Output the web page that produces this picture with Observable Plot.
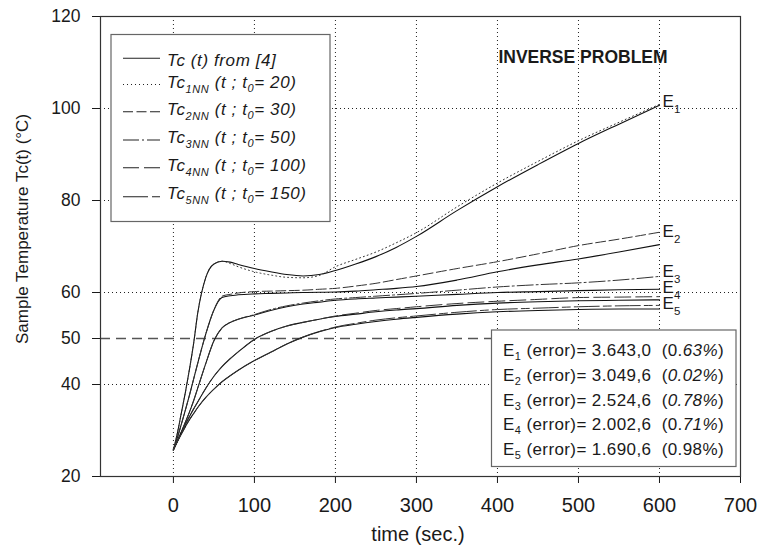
<!DOCTYPE html>
<html><head><meta charset="utf-8">
<script src="https://cdn.jsdelivr.net/npm/d3@7"></script>
<script src="https://cdn.jsdelivr.net/npm/@observablehq/plot@0.6"></script>
<style>
body{margin:0;background:#fff;}
#chart svg{display:block;}
</style></head><body><div id="chart"></div>
<script>
// ---------- data ----------
const time = [0, 5, 10, 15, 20, 25, 30, 40, 50, 60, 70, 80, 100, 120, 140, 160, 180, 200, 225, 250, 275, 300, 350, 400, 450, 500, 550, 600];

// Tc(t) from [4] (solid) for the five cases E1..E5
const ref1 = [25.8, 29.5, 34, 38.5, 43.5, 49, 55.5, 63.3, 66.2, 66.8, 66.6, 66.1, 65.2, 64.5, 63.9, 63.6, 63.9, 64.8, 66.2, 67.8, 69.8, 72.2, 77.8, 83, 87.8, 92.4, 96.6, 100.7];
const ref2 = [25.8, 28.5, 31.5, 34.6, 37.8, 41.2, 44.6, 51, 56.2, 58.9, 59.3, 59.5, 59.7, 59.8, 59.9, 60.0, 60.05, 60.1, 60.3, 60.6, 60.9, 61.3, 62.7, 64.5, 66.0, 67.3, 68.8, 70.4];
const ref3 = [25.8, 27.8, 29.8, 31.9, 34.1, 36.5, 39.2, 44.6, 49.5, 52.3, 53.5, 54.2, 55.1, 56.1, 56.9, 57.5, 57.9, 58.3, 58.6, 58.8, 59.0, 59.2, 59.6, 60.0, 60.2, 60.4, 60.6, 60.7];
const ref4 = [25.8, 27.7, 29.6, 31.4, 33.1, 34.7, 36.2, 39.2, 41.8, 43.9, 45.6, 47.1, 49.8, 51.5, 52.7, 53.5, 54.2, 54.8, 55.3, 55.8, 56.2, 56.5, 57.2, 57.7, 58.0, 58.2, 58.3, 58.4];
const ref5 = [25.8, 27.6, 29.3, 30.9, 32.4, 33.7, 35.0, 37.2, 39.0, 40.6, 41.9, 43.1, 45.2, 47.0, 48.8, 50.3, 51.5, 52.4, 53.1, 53.7, 54.2, 54.6, 55.3, 55.8, 56.1, 56.3, 56.4, 56.4];

// Tc_iNN (neural network) curves
const nn1 = [25.8, 29.5, 34, 38.5, 43.5, 49, 55.5, 63.3, 66.2, 66.8, 66.3, 65.6, 64.5, 63.8, 63.3, 63.2, 63.7, 65.6, 67.2, 68.8, 70.8, 73, 78.6, 83.8, 88.5, 93, 97, 100.9];
const nn2 = [25.8, 28.5, 31.5, 34.6, 37.8, 41.2, 44.6, 51, 56.2, 59.2, 59.6, 59.9, 60.2, 60.3, 60.4, 60.5, 60.7, 60.9, 61.4, 62, 62.8, 63.6, 65.2, 66.7, 68.4, 70.2, 71.6, 73.1];
const nn3 = [25.8, 27.8, 29.8, 31.9, 34.1, 36.5, 39.2, 44.6, 49.5, 52.3, 53.5, 54.2, 55.2, 56.3, 57.1, 57.7, 58.2, 58.6, 58.9, 59.2, 59.5, 59.8, 60.5, 61.2, 61.7, 62.1, 62.7, 63.5];
const nn4 = [25.8, 27.7, 29.6, 31.4, 33.1, 34.7, 36.2, 39.2, 41.8, 43.9, 45.6, 47.1, 49.8, 51.5, 52.7, 53.5, 54.2, 54.9, 55.5, 56.1, 56.5, 56.9, 57.6, 58.1, 58.5, 58.9, 59.0, 59.1];
const nn5 = [25.8, 27.6, 29.3, 30.9, 32.4, 33.7, 35.0, 37.2, 39.0, 40.6, 41.9, 43.1, 45.2, 47.0, 48.8, 50.3, 51.5, 52.5, 53.3, 54.0, 54.5, 54.9, 55.7, 56.3, 56.6, 56.9, 57.1, 57.2];

const xTicks = [0, 100, 200, 300, 400, 500, 600, 700];
const yTicks = [20, 40, 50, 60, 80, 100, 120];
const xGrid = [0, 100, 200, 300, 400, 500, 600];
const yGrid = [40, 60, 80, 100];
const limitTemp = [50];

const curveNames = ["1", "2", "3", "4", "5"];
const curveLabelT = [101.5, 73.2, 64.6, 61.1, 57.6];

const t0Values = ["20", "30", "50", "100", "150"];
const errorValues = ["3.643,0", "3.049,6", "2.524,6", "2.002,6", "1.690,6"];
const errorPctUpright = ["0.", "", "", "0.", "0.98%"];
const errorPctItalic = ["63%", "0.02%", "0.78%", "71%", ""];

const xLabel = "time (sec.)";
const yLabel = "Sample Temperature Tc(t) (°C)";
const annotation = "INVERSE PROBLEM";

// ---------- build tables ----------
const refSeries = [ref1, ref2, ref3, ref4, ref5];
const nnSeries = [nn1, nn2, nn3, nn4, nn5];
const refRows = [];
refSeries.forEach((arr, i) => arr.forEach((v, j) => refRows.push({t: time[j], T: v, s: "E" + (i + 1)})));
const nnRows = nnSeries.map(arr => arr.map((v, j) => ({t: time[j], T: v})));
const lastT = time[time.length - 1];
const labelRows = curveNames.map((n, i) => ({t: lastT, T: curveLabelT[i], n}));

const dashes = ["1,3", "10,3.5", "16,3,2,3", "16,5", "25,4,8,4"];
const FONT = "'Liberation Sans', Arial, Helvetica, sans-serif";

const W = 759, H = 545;
const M = {left: 100, right: 19, top: 16, bottom: 69};

const plot = Plot.plot({
  width: W, height: H,
  marginLeft: M.left, marginRight: M.right, marginTop: M.top, marginBottom: M.bottom,
  style: {fontFamily: FONT, color: "#1a1a1a", background: "#fff", overflow: "visible"},
  x: {domain: [-90, 700]},
  y: {domain: [20, 120]},
  marks: [
    Plot.gridX(xGrid, {stroke: "#222", strokeOpacity: 1, strokeDasharray: "1,3"}),
    Plot.gridY(yGrid, {stroke: "#222", strokeOpacity: 1, strokeDasharray: "1,3"}),
    Plot.ruleY(limitTemp, {stroke: "#555", strokeWidth: 1.6, strokeDasharray: "10,6"}),
    Plot.line(refRows, {x: "t", y: "T", z: "s", stroke: "#111", strokeWidth: 1.1, curve: "monotone-x"}),
    ...nnRows.map((rows, i) => Plot.line(rows, {x: "t", y: "T", stroke: "#333", strokeWidth: 1, strokeDasharray: dashes[i], curve: "monotone-x"})),
    Plot.text(labelRows, {x: "t", y: "T", text: () => "E", dx: 3, textAnchor: "start", fontSize: 17, fill: "#1a1a1a"}),
    Plot.text(labelRows, {x: "t", y: "T", text: "n", dx: 14.5, dy: 8, textAnchor: "start", fontSize: 11.5, fill: "#1a1a1a"}),
    Plot.axisX(xTicks, {tickSize: 7, tickPadding: 14, fontSize: 20, label: null}),
    Plot.axisY(yTicks, {tickSize: 8, tickPadding: 12, fontSize: 17.5, label: null}),
    Plot.frame({stroke: "#333", strokeWidth: 1.2})
  ]
});
document.getElementById("chart").appendChild(plot);

// ---------- annotations (axis titles, legend, error box) ----------
const svg = d3.select(plot);

svg.append("text").attr("x", 418).attr("y", 541).attr("text-anchor", "middle")
  .attr("font-family", FONT).attr("font-size", 20).attr("fill", "#1a1a1a").text(xLabel);
svg.append("text").attr("transform", "translate(28,229) rotate(-90)").attr("text-anchor", "middle")
  .attr("font-family", FONT).attr("font-size", 17).attr("fill", "#1a1a1a").text(yLabel);

svg.append("text").attr("x", 583).attr("y", 62.5).attr("text-anchor", "middle")
  .attr("font-family", FONT).attr("font-size", 17.5).attr("font-weight", "bold").attr("fill", "#1a1a1a").text(annotation);

function writeParts(textSel, parts) {
  let shift = 0;
  parts.forEach(p => {
    if (!p.t) return;
    const ts = textSel.append("tspan").text(p.t);
    const want = p.sub ? p.sub : 0;
    if (want !== shift) { ts.attr("dy", want - shift); shift = want; }
    if (p.sub) ts.attr("font-size", p.size || 11.5);
    if (p.italic) ts.attr("font-style", "italic");
    if (p.upright) ts.attr("font-style", "normal");
  });
}

// legend
const lg = svg.append("g").attr("text-anchor", "start");
lg.append("rect").attr("x", 111).attr("y", 34.5).attr("width", 219).attr("height", 187)
  .attr("fill", "#fff").attr("stroke", "#666").attr("stroke-width", 1.2);
const legendLineY = [58.3, 84.5, 111.7, 140, 167.7, 196.7];
const legendBase = [66, 88, 114.5, 142.5, 170.5, 199];
const legendDash = [null, ...dashes];
legendLineY.forEach((y, i) => {
  const ln = lg.append("line").attr("x1", 123).attr("x2", 160).attr("y1", y).attr("y2", y)
    .attr("stroke", "#222").attr("stroke-width", 1.1);
  if (legendDash[i]) ln.attr("stroke-dasharray", legendDash[i]);
  const tx = lg.append("text").attr("x", 167).attr("y", legendBase[i]).attr("text-anchor", "start")
    .attr("font-family", FONT)
    .attr("font-size", 17).attr("font-style", "italic").attr("letter-spacing", 0.6)
    .attr("fill", "#1a1a1a").style("white-space", "pre");
  if (i === 0) {
    writeParts(tx, [{t: "Tc (t) from [4]"}]);
  } else {
    writeParts(tx, [{t: "Tc"}, {t: curveNames[i - 1] + "NN", sub: 5, size: 11}, {t: " (t ; t"}, {t: "0", sub: 4, size: 11}, {t: "= " + t0Values[i - 1] + ")"}]);
  }
});

// error box
const eb = svg.append("g").attr("text-anchor", "start");
eb.append("rect").attr("x", 491.5).attr("y", 330).attr("width", 244.5).attr("height", 136.5)
  .attr("fill", "#fff").attr("stroke", "#666").attr("stroke-width", 1.2);
errorValues.forEach((v, i) => {
  const tx = eb.append("text").attr("x", 503).attr("y", 356 + i * 24.8).attr("text-anchor", "start")
    .attr("font-family", FONT)
    .attr("font-size", 17).attr("letter-spacing", 0.4).attr("fill", "#1a1a1a").style("white-space", "pre");
  writeParts(tx, [
    {t: "E"}, {t: curveNames[i], sub: 4, size: 11},
    {t: " (error)= " + v + "  ("},
    {t: errorPctUpright[i], upright: true},
    {t: errorPctItalic[i], italic: true},
    {t: ")"}
  ]);
});
</script></body></html>
